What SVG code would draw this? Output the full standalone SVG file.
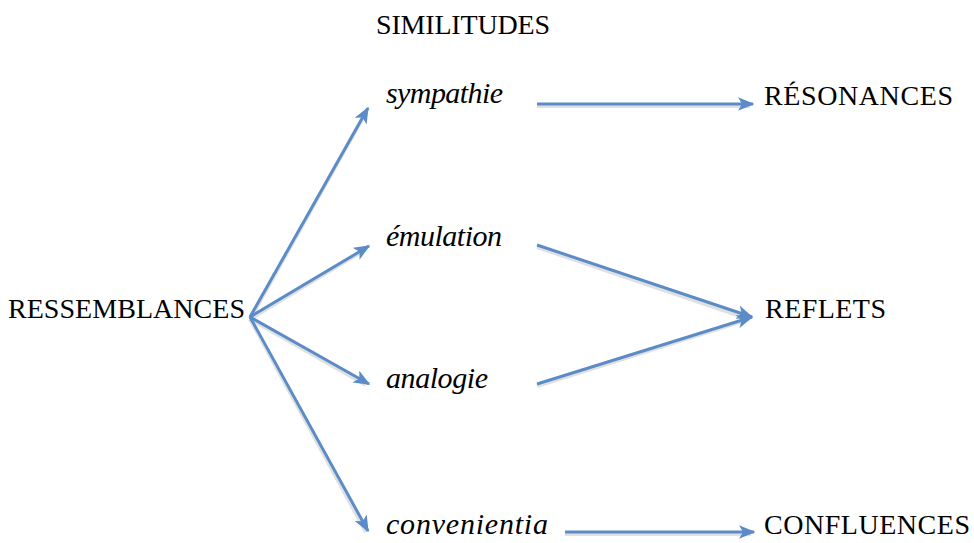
<svg xmlns="http://www.w3.org/2000/svg" width="974" height="543" viewBox="0 0 974 543">
<style>
text{font-family:"Liberation Serif","Times New Roman",serif;font-size:28px;fill:#000}
.it{font-style:italic;font-size:30px}
.c line{stroke:#5b8cc8;stroke-width:3;fill:none;marker-end:url(#ah)}
.sh line{stroke:#000;stroke-opacity:0.12;stroke-width:4;fill:none}
</style>
<defs>
<marker id="ah" viewBox="0 0 12 10" refX="11" refY="5" markerWidth="5.5" markerHeight="4.6" orient="auto" markerUnits="strokeWidth">
<path d="M0,0 L12,5 L0,10 L3,5 Z" fill="#5b8cc8"/>
</marker>
</defs>
<g id="connectors">
<g class="sh">
<line x1="250" y1="319" x2="366" y2="112"/>
<line x1="250" y1="319" x2="366" y2="249"/>
<line x1="250" y1="319" x2="366" y2="385"/>
<line x1="250" y1="319" x2="366" y2="532"/>
<line x1="537" y1="106" x2="750" y2="106"/>
<line x1="537" y1="247" x2="749" y2="319"/>
<line x1="537" y1="386" x2="749" y2="319"/>
<line x1="565" y1="534" x2="751" y2="534"/>
</g>
<g class="c">
<line x1="250" y1="317" x2="368" y2="108"/>
<line x1="250" y1="317" x2="369" y2="246"/>
<line x1="250" y1="317" x2="369" y2="384"/>
<line x1="250" y1="317" x2="368" y2="531"/>
<line x1="537" y1="104" x2="753" y2="104"/>
<line x1="537" y1="245" x2="752" y2="317"/>
<line x1="537" y1="384" x2="752" y2="317"/>
<line x1="565" y1="532" x2="754" y2="532"/>
</g>
</g>
<g id="similitudes"><text x="376" y="34" textLength="174">SIMILITUDES</text></g>
<g id="ressemblances"><text x="8" y="318" textLength="237">RESSEMBLANCES</text></g>
<g id="sympathie"><text class="it" x="386" y="103" textLength="117">sympathie</text></g>
<g id="emulation"><text class="it" x="386" y="246" textLength="116">émulation</text></g>
<g id="analogie"><text class="it" x="386" y="388" textLength="102">analogie</text></g>
<g id="convenientia"><text class="it" x="386" y="534" textLength="162">convenientia</text></g>
<g id="resonances"><text x="764" y="105" textLength="189">RÉSONANCES</text></g>
<g id="reflets"><text x="765" y="318" textLength="121">REFLETS</text></g>
<g id="confluences"><text x="764" y="534" textLength="206">CONFLUENCES</text></g>
</svg>
